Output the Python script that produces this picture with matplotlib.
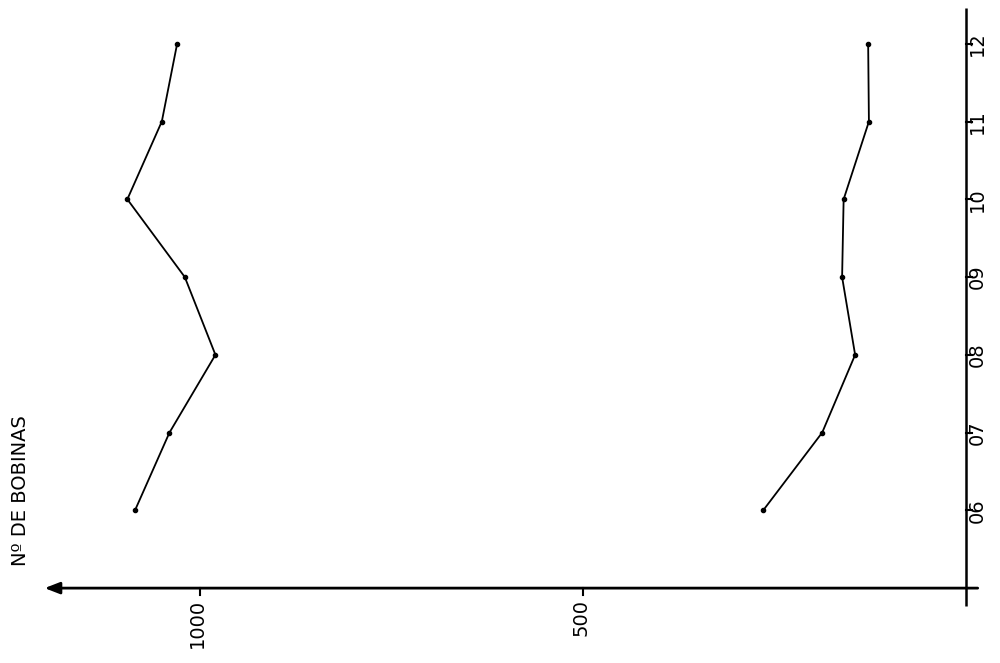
import matplotlib
matplotlib.use("Agg")
import matplotlib.pyplot as plt

# monthly number of coils, two series
months = [6, 7, 8, 9, 10, 11, 12]
month_labels = ["06", "07", "08", "09", "10", "11", "12"]
upper_series = [1085, 1040, 980, 1020, 1095, 1050, 1030]
lower_series = [265, 188, 145, 162, 160, 127, 128]
value_ticks = [500, 1000]

fig = plt.figure(figsize=(10, 6.63), dpi=100)
ax = fig.add_axes([0.04, 1 - 606 / 663, 0.94, 598 / 663])
ax.set_xlim(1209, -18)
ax.set_ylim(4.77, 12.46)
ax.axis("off")

ink = "black"

# value axis (points left) and month axis
ax.annotate("", xy=(1203, 5), xytext=(-15, 5),
            arrowprops=dict(arrowstyle="-|>,head_length=0.9,head_width=0.35",
                            color=ink, lw=2, shrinkA=0, shrinkB=0),
            annotation_clip=False)
ax.plot([0, 0], [4.77, 12.46], color=ink, lw=1.8, clip_on=False,
        solid_capstyle="butt")

for v in value_ticks:
    ax.plot([v, v], [5, 4.91], color=ink, lw=1.5, clip_on=False)
    ax.text(v + 3, 4.86, str(v), rotation=90, ha="center", va="top",
            fontsize=14, color=ink)

for m, lab in zip(months, month_labels):
    ax.plot([0, -7], [m, m], color=ink, lw=1.5, clip_on=False)
    ax.text(-15, m, lab, rotation=90, ha="center", va="center",
            fontsize=14, color=ink)

ax.text(1235, 6.25, "Nº DE BOBINAS", rotation=90, ha="center", va="center",
        fontsize=14, color=ink)

# series drawn with values along x, months along y
for series in (upper_series, lower_series):
    ax.plot(series, months, color=ink, lw=1.3, marker="o", markersize=3,
            clip_on=False)

fig.savefig("out.png", dpi=100, facecolor="white")
